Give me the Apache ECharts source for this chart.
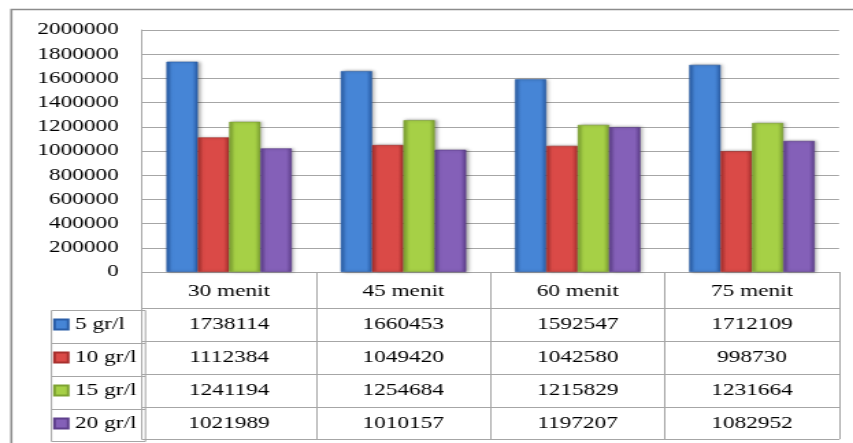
<!DOCTYPE html>
<html>
<head>
<meta charset="utf-8">
<script src="https://cdn.jsdelivr.net/npm/echarts@6/dist/echarts.min.js"></script>
<style>
  html, body { margin: 0; padding: 0; background: #fff; overflow: hidden; }
  #wrap { width: 853px; height: 443px; overflow: hidden; }
  #chart { width: 623px; height: 443px; transform: scaleX(1.3692); transform-origin: 0 0; }
</style>
</head>
<body>
<div id="wrap"><div id="chart"></div></div>
<script>
// ---- data ----
const categories = ['30 menit', '45 menit', '60 menit', '75 menit'];
const seriesNames = ['5 gr/l', '10 gr/l', '15 gr/l', '20 gr/l'];
const values5 = [1738114, 1660453, 1592547, 1712109];
const values10 = [1112384, 1049420, 1042580, 998730];
const values15 = [1241194, 1254684, 1215829, 1231664];
const values20 = [1021989, 1010157, 1197207, 1082952];
const yTicks = { min: 0, max: 2000000, interval: 200000 };

// ---- styling ----
const allValues = [values5, values10, values15, values20];
const palettes = [
  ['#2a5ea8', '#4685d6', '#2a5ea8'],
  ['#a8302e', '#da4a47', '#a8302e'],
  ['#7ea332', '#a6d046', '#7ea332'],
  ['#5e3f8c', '#8460b8', '#5e3f8c']
];
const FONT = 'Liberation Serif';
const GRAY = '#a6a6a6';

function grad(p) {
  return new echarts.graphic.LinearGradient(0, 0, 1, 0, [
    { offset: 0, color: p[0] },
    { offset: 0.18, color: p[1] },
    { offset: 0.82, color: p[1] },
    { offset: 1, color: p[2] }
  ]);
}

const chart = echarts.init(document.getElementById('chart'));

const gridLeft = 103.7, gridRight = 10.2, gridTop = 30, gridHeight = 242;
const rowOffsets = [36, 69, 102, 135];
const rowHeights = [33, 33, 33, 32];

const xAxes = [{
  type: 'category',
  data: categories,
  gridIndex: 0,
  position: 'bottom',
  axisLine: { show: true, lineStyle: { color: GRAY, width: 1 } },
  axisTick: { show: true, length: 36, lineStyle: { color: GRAY } },
  axisLabel: { color: '#000', fontFamily: FONT, fontSize: 17, margin: 11 }
}];
allValues.forEach((vals, i) => {
  xAxes.push({
    type: 'category',
    data: vals.map(v => String(v)),
    gridIndex: 0,
    position: 'bottom',
    offset: rowOffsets[i],
    axisLine: { show: true, onZero: false, lineStyle: { color: GRAY, width: 1 } },
    axisTick: { show: true, length: rowHeights[i], lineStyle: { color: GRAY } },
    axisLabel: { color: '#000', fontFamily: FONT, fontSize: 17, margin: 8 }
  });
});
xAxes.push({
  type: 'category',
  data: categories,
  gridIndex: 0,
  position: 'bottom',
  offset: 167,
  axisLine: { show: true, onZero: false, lineStyle: { color: GRAY, width: 1 } },
  axisTick: { show: false },
  axisLabel: { show: false }
});

// legend column cell borders
const legendCells = [];
const rowTops = [308, 341, 374, 407];
rowTops.forEach((t, i) => {
  legendCells.push({
    type: 'rect',
    left: 35.1, top: t,
    shape: { width: gridLeft - 35.1, height: rowHeights[i] },
    style: { fill: 'none', stroke: GRAY, lineWidth: 1 },
    silent: true
  });
});

chart.setOption({
  animation: false,
  backgroundColor: '#fff',
  textStyle: { fontFamily: FONT },
  grid: { left: gridLeft, right: gridRight, top: gridTop, height: gridHeight, containLabel: false },
  legend: {
    orient: 'vertical',
    left: 38.8,
    top: 316,
    padding: 0,
    itemWidth: 10,
    itemHeight: 10,
    itemGap: 16,
    icon: 'rect',
    textStyle: { color: '#000', fontFamily: FONT, fontSize: 17, lineHeight: 17 },
    data: seriesNames
  },
  xAxis: xAxes,
  yAxis: {
    type: 'value',
    min: yTicks.min,
    max: yTicks.max,
    interval: yTicks.interval,
    axisLine: { show: true, lineStyle: { color: GRAY } },
    axisTick: { show: false },
    splitLine: { show: true, lineStyle: { color: GRAY, width: 1 } },
    axisLabel: { color: '#000', fontFamily: FONT, fontSize: 17, margin: 17, formatter: v => String(v) }
  },
  graphic: [
    {
      type: 'rect',
      left: 5.8, top: 7,
      shape: { width: 700, height: 500 },
      style: { fill: 'none', stroke: '#8c8c8c', lineWidth: 1.6 },
      silent: true
    }
  ].concat(legendCells),
  series: allValues.map((vals, i) => ({
    name: seriesNames[i],
    type: 'bar',
    xAxisIndex: 0,
    data: vals,
    barGap: '0%',
    barCategoryGap: '28%',
    itemStyle: {
      color: grad(palettes[i]),
      borderColor: palettes[i][0],
      borderWidth: 0.6,
      shadowColor: 'rgba(0,0,0,0.35)',
      shadowBlur: 3,
      shadowOffsetX: 1.5,
      shadowOffsetY: 0
    }
  }))
});
</script>
</body>
</html>
